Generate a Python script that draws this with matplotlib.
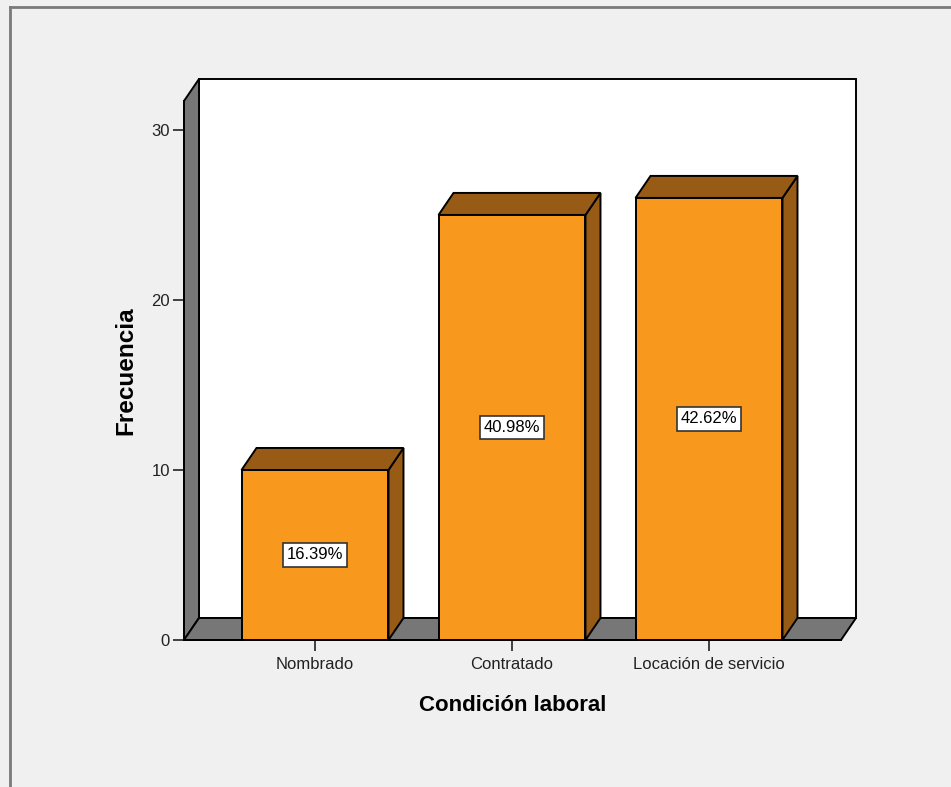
import matplotlib
matplotlib.use("Agg")
import matplotlib.pyplot as plt
from matplotlib.patches import Polygon, Rectangle
from matplotlib.lines import Line2D

categories = ["Nombrado", "Contratado", "Locación de servicio"]
values = [10, 25, 26]
yticks = [0, 10, 20, 30]
xlabel = "Condición laboral"
ylabel = "Frecuencia"

plt.rcParams['font.family'] = ['Liberation Sans', 'DejaVu Sans']

W, H = 951, 787
fig = plt.figure(figsize=(W / 100, H / 100), dpi=100, facecolor='#f0f0f0')

# front plane of the 3D box in pixels
left_px, right_px, bottom_px, top_px = 184, 841, 640, 101
ax = fig.add_axes([left_px / W, (H - bottom_px) / H,
                   (right_px - left_px) / W, (bottom_px - top_px) / H])
ax.set_facecolor('none')

x = list(range(len(categories)))
x0, x1 = -0.665, 2.67
ymax = 31.7
ax.set_xlim(x0, x1)
ax.set_ylim(0, ymax)

# depth offset (pixels -> data)
px_x = (right_px - left_px) / (x1 - x0)
px_y = (bottom_px - top_px) / ymax
DX = 15 / px_x
DY = 22 / px_y

edge = 'black'
lw = 1.4
gray = '#777777'
orange = '#f8991e'
brown = '#985b15'

# back wall
ax.add_patch(Rectangle((x0 + DX, DY), x1 - x0, ymax, facecolor='white',
                       edgecolor=edge, lw=lw, clip_on=False, zorder=0))
# left wall
ax.add_patch(Polygon([(x0, 0), (x0, ymax), (x0 + DX, ymax + DY), (x0 + DX, DY)],
                     closed=True, facecolor=gray, edgecolor=edge, lw=lw,
                     clip_on=False, zorder=1))
# floor
ax.add_patch(Polygon([(x0, 0), (x1, 0), (x1 + DX, DY), (x0 + DX, DY)],
                     closed=True, facecolor=gray, edgecolor=edge, lw=lw,
                     clip_on=False, zorder=1))

bw = 0.746
total = sum(values)
for xi, v in zip(x, values):
    xl, xr = xi - bw / 2, xi + bw / 2
    ax.add_patch(Polygon([(xr, 0), (xr, v), (xr + DX, v + DY), (xr + DX, DY)],
                         closed=True, facecolor=brown, edgecolor=edge, lw=lw,
                         clip_on=False, zorder=2))
    ax.add_patch(Polygon([(xl, v), (xr, v), (xr + DX, v + DY), (xl + DX, v + DY)],
                         closed=True, facecolor=brown, edgecolor=edge, lw=lw,
                         clip_on=False, zorder=2))
ax.bar(x, values, width=bw, color=orange, edgecolor=edge, linewidth=lw,
       zorder=3, clip_on=False)
for xi, v in zip(x, values):
    ax.text(xi, v / 2, f"{v / total * 100:.2f}%", ha='center', va='center',
            fontsize=12, color='black', zorder=5,
            bbox=dict(boxstyle='square,pad=0.25', facecolor='white',
                      edgecolor='#333333', lw=1.2))

for s in ['top', 'right']:
    ax.spines[s].set_visible(False)
ax.spines['left'].set_linewidth(lw)
ax.spines['bottom'].set_linewidth(lw)
ax.spines['left'].set_zorder(4)
ax.spines['bottom'].set_zorder(4)

ax.set_yticks(yticks)
ax.set_yticklabels([str(t) for t in yticks])
ax.set_xticks(x)
ax.set_xticklabels(categories)
ax.tick_params(axis='both', length=8, width=1.2, direction='out',
               labelsize=12, colors='#222222')
ax.tick_params(axis='y', pad=2)
ax.tick_params(axis='x', pad=4)

ax.set_xlabel(xlabel, fontsize=16, fontweight='bold', labelpad=17)
ax.set_ylabel(ylabel, fontsize=17.5, fontweight='bold', labelpad=10)

# outer frame lines
fig.add_artist(Line2D([10 / W, 1], [1 - 7 / H, 1 - 7 / H], color='#7a7a7a', lw=2))
fig.add_artist(Line2D([10 / W, 10 / W], [0, 1 - 7 / H], color='#7a7a7a', lw=2))

fig.savefig("out.png", dpi=100, facecolor=fig.get_facecolor())
